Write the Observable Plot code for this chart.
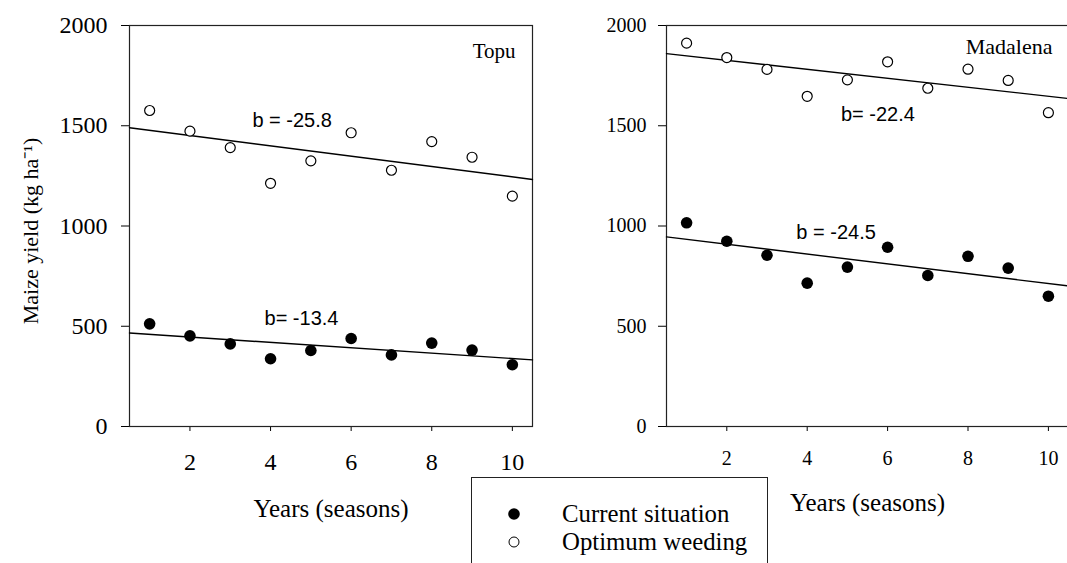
<!DOCTYPE html>
<html>
<head>
<meta charset="utf-8">
<script src="https://cdn.jsdelivr.net/npm/d3@7"></script>
<script src="https://cdn.jsdelivr.net/npm/@observablehq/plot@0.6"></script>
<style>
  html, body { margin: 0; padding: 0; background: #fff; }
  #chart { position: relative; width: 1067px; height: 563px; overflow: hidden; background: #fff; }
  #left { position: absolute; left: 0; top: 0; width: 540px; height: 563px; }
  #right { position: absolute; left: 540px; top: 0; width: 540px; height: 563px; }
  #chart svg { max-width: none !important; }
  #legend {
    position: absolute; left: 471px; top: 477px; width: 297px; height: 100px;
    border: 1.5px solid #222; box-sizing: border-box;
    font-family: "Liberation Serif", "Times New Roman", serif; font-size: 24.8px; color: #000;
  }
  #legend .row { position: absolute; left: 0; height: 27.6px; width: 100%; overflow: visible; }
  #legend svg { position: absolute; left: 34px; top: 0; }
  #legend span { position: absolute; display: block; left: 90px; top: 0; height: 27.6px; line-height: 27.6px; white-space: nowrap; }
</style>
</head>
<body>
<div id="chart">
  <div id="left"></div>
  <div id="right"></div>
  <div id="legend"></div>
</div>
<script>
// Seasons 1–10 of the simulation
const years = [1, 2, 3, 4, 5, 6, 7, 8, 9, 10];
const xTicks = [2, 4, 6, 8, 10];
const yTicks = [0, 500, 1000, 1500, 2000];

// Maize yield (kg/ha) per season, per site and weeding scenario
const topuCurrent = [512, 452, 412, 338, 379, 439, 357, 416, 381, 308];
const topuOptimum = [1576, 1473, 1391, 1213, 1325, 1465, 1278, 1421, 1343, 1149];
const madalenaCurrent = [1016, 924, 854, 715, 795, 894, 753, 849, 790, 650];
const madalenaOptimum = [1912, 1840, 1781, 1647, 1729, 1819, 1687, 1782, 1726, 1565];

// Fitted trends: yield = intercept + b * season
const topuSlopes = {current: -13.4, optimum: -25.8};
const topuIntercepts = {current: 473, optimum: 1503};
const madalenaSlopes = {current: -24.5, optimum: -22.4};
const madalenaIntercepts = {current: 958, optimum: 1871};

// Slope labels as printed, with the point (season, yield) where each sits
const topuLabels = {current: "b= -13.4", optimum: "b = -25.8"};
const madalenaLabels = {current: "b = -24.5", optimum: "b= -22.4"};
const topuLabelAt = {current: [3.85, 504], optimum: [3.55, 1493]};
const madalenaLabelAt = {current: [3.73, 936], optimum: [4.84, 1523]};

const seriesNames = ["Current situation", "Optimum weeding"];

const xDomain = [0.5, 10.5];
const serif = "'Liberation Serif', 'Times New Roman', serif";
const sans = "'Liberation Sans', Arial, sans-serif";

function panel({site, current, optimum, slopes, intercepts, labels, labelAt, opts}) {
  const pts = (vals, kind) => years.map((x, i) => ({x, y: vals[i], kind}));
  const trend = (kind) => xDomain.map((x) => ({x, y: intercepts[kind] + slopes[kind] * x}));
  const ann = ["current", "optimum"].map((k) => ({x: labelAt[k][0], y: labelAt[k][1], text: labels[k]}));
  const marks = [
    Plot.frame({stroke: "#222", strokeWidth: 1.2}),
    Plot.line(trend("optimum"), {x: "x", y: "y", stroke: "#000", strokeWidth: 1.4}),
    Plot.line(trend("current"), {x: "x", y: "y", stroke: "#000", strokeWidth: 1.4}),
    Plot.dot(pts(optimum, "optimum"), {x: "x", y: "y", r: 5, fill: "#fff", stroke: "#000", strokeWidth: 1.2}),
    Plot.dot(pts(current, "current"), {x: "x", y: "y", r: 5.8, fill: "#000", stroke: "none"}),
    Plot.text(ann, {x: "x", y: "y", text: "text", textAnchor: "start", lineAnchor: "bottom",
      fontFamily: sans, fontSize: 20, fill: "#000"}),
    Plot.text([site], {frameAnchor: "top-right", text: (d) => d, textAnchor: "end", lineAnchor: "bottom",
      dx: opts.siteDx, dy: opts.siteDy, fontFamily: serif, fontSize: opts.siteSize, fill: "#000"}),
    Plot.text(["Years (seasons)"], {frameAnchor: "bottom", text: (d) => d, textAnchor: "middle", lineAnchor: "bottom",
      dy: opts.xLabelDy, fontFamily: serif, fontSize: 25, fill: "#000"})
  ];
  if (opts.yLabel) {
    marks.push(Plot.text([opts.yLabel], {frameAnchor: "left", text: (d) => d, rotate: -90,
      textAnchor: "middle", lineAnchor: "middle",
      dx: -99, dy: 5, fontFamily: serif, fontSize: 22, fill: "#000"}));
  }
  const svg = Plot.plot({
    width: 540,
    height: 563,
    marginTop: 25,
    marginBottom: 137,
    marginLeft: opts.marginLeft,
    marginRight: opts.marginRight,
    style: {fontFamily: serif, fontSize: opts.tickSize + "px", color: "#000", background: "transparent", overflow: "visible", maxWidth: "none"},
    x: {domain: xDomain, ticks: xTicks, tickSize: 5, tickPadding: opts.xPad, tickFormat: (d) => String(d), label: null},
    y: {domain: [0, 2000], ticks: yTicks, tickSize: 8, tickPadding: opts.yPad, tickFormat: (d) => String(d), label: null},
    marks
  });
  // Axis tick labels follow the serif face used for the rest of the figure
  svg.querySelectorAll("text").forEach((t) => {
    const owner = t.closest("[font-family]");
    if (!owner || !/Liberation/.test(owner.getAttribute("font-family"))) {
      t.style.fontFamily = serif;
      t.style.fontSize = opts.tickSize + "px";
    }
  });
  return svg;
}

document.getElementById("left").appendChild(panel({
  site: "Topu", current: topuCurrent, optimum: topuOptimum,
  slopes: topuSlopes, intercepts: topuIntercepts, labels: topuLabels, labelAt: topuLabelAt,
  opts: {marginLeft: 129, marginRight: 8, tickSize: 24, xPad: 21, yPad: 14,
    siteDx: -17, siteDy: 32, siteSize: 21, xLabelDy: 90, yLabel: "Maize yield (kg ha\u207B\u00B9)"}
}));

document.getElementById("right").appendChild(panel({
  site: "Madalena", current: madalenaCurrent, optimum: madalenaOptimum,
  slopes: madalenaSlopes, intercepts: madalenaIntercepts, labels: madalenaLabels, labelAt: madalenaLabelAt,
  opts: {marginLeft: 126, marginRight: 12, tickSize: 20, xPad: 19, yPad: 12,
    siteDx: -16, siteDy: 28, siteSize: 22, xLabelDy: 84, yLabel: null}
}));

// Legend below the panels
const legend = document.getElementById("legend");
seriesNames.forEach((name, i) => {
  const row = document.createElement("div");
  row.className = "row";
  row.style.top = (22 + i * 27.6) + "px";
  const filled = i === 0;
  row.innerHTML =
    `<svg width="16" height="27"><circle cx="8" cy="14" r="${filled ? 5.8 : 5}" fill="${filled ? "#000" : "#fff"}" stroke="#000" stroke-width="${filled ? 0 : 1}"></circle></svg>` +
    `<span>${name}</span>`;
  legend.appendChild(row);
});
</script>
</body>
</html>
